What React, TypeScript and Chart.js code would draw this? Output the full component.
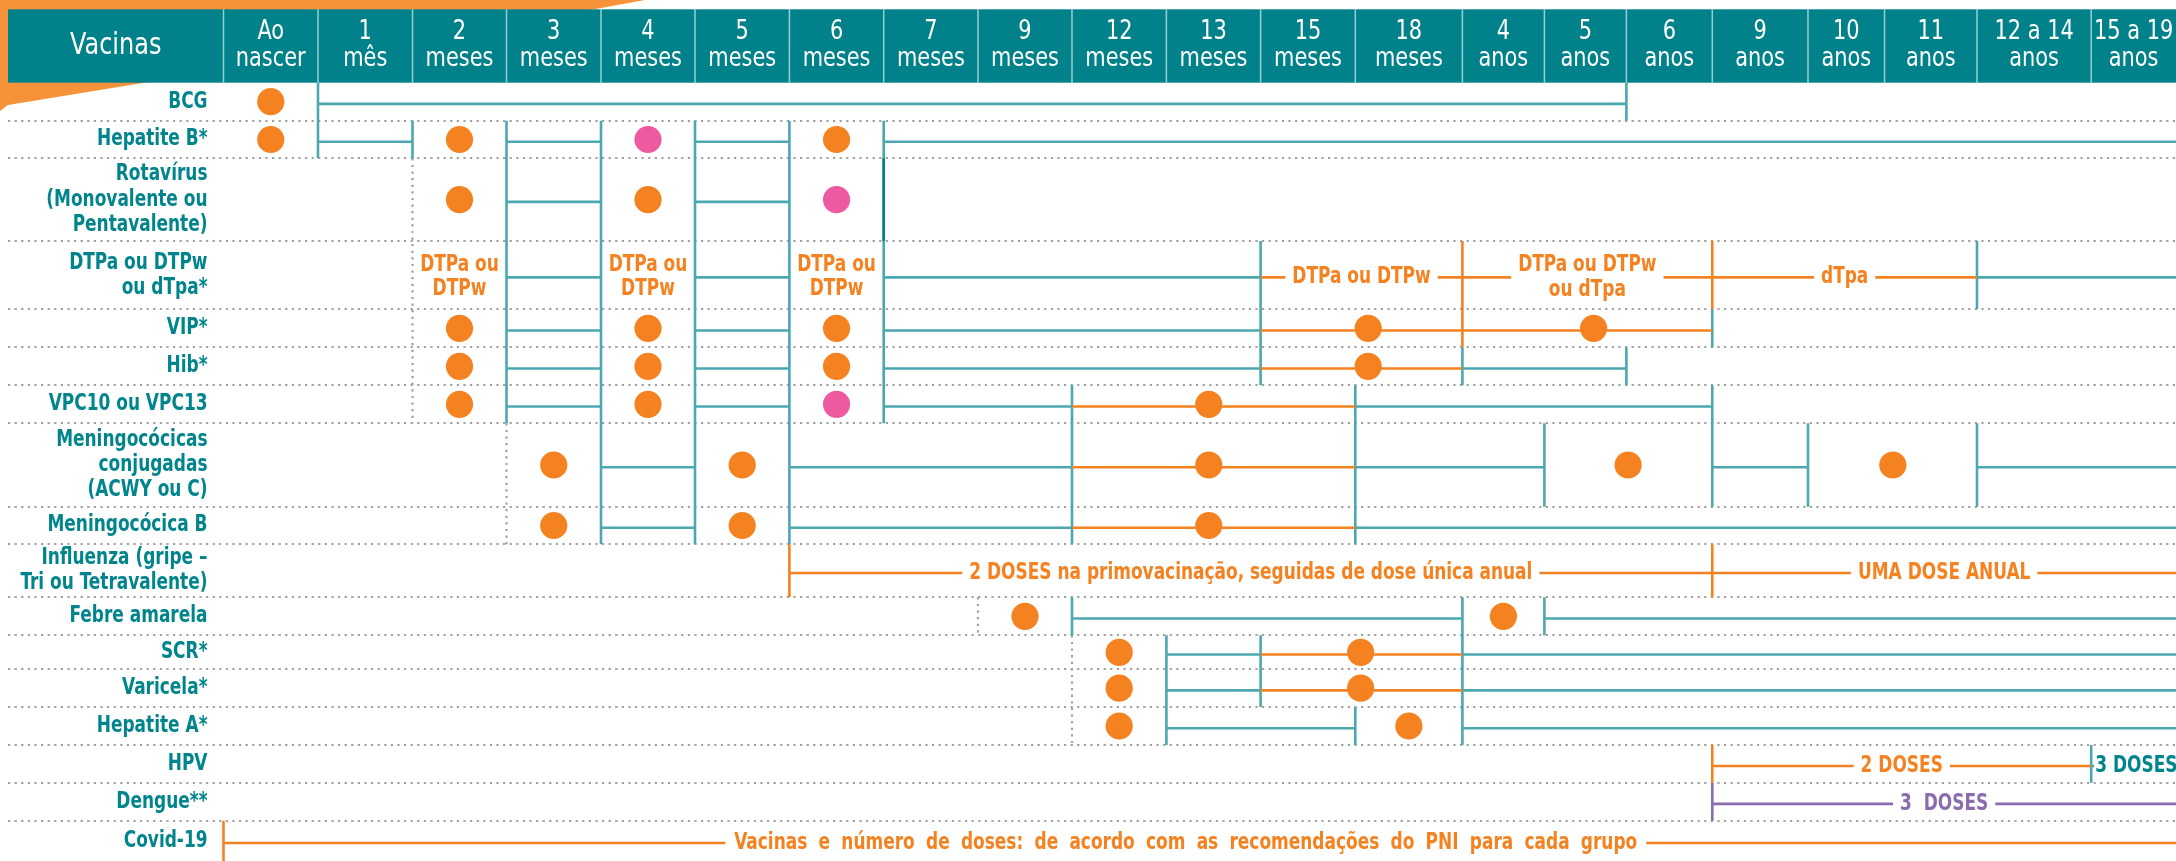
import React, { useEffect, useRef } from "react";
import { Chart, registerables } from "chart.js";

Chart.register(...registerables);

// ---------------- DATA ----------------
const HEADER_LABEL = "Vacinas";

const AGE_COLUMNS: string[][] = [
  ["Ao", "nascer"], ["1", "mês"], ["2", "meses"], ["3", "meses"], ["4", "meses"],
  ["5", "meses"], ["6", "meses"], ["7", "meses"], ["9", "meses"], ["12", "meses"],
  ["13", "meses"], ["15", "meses"], ["18", "meses"], ["4", "anos"], ["5", "anos"],
  ["6", "anos"], ["9", "anos"], ["10", "anos"], ["11", "anos"], ["12 a 14", "anos"],
  ["15 a 19", "anos"],
];

const VACCINES: string[][] = [
  ["BCG"],
  ["Hepatite B*"],
  ["Rotavírus", "(Monovalente ou", "Pentavalente)"],
  ["DTPa ou DTPw", "ou dTpa*"],
  ["VIP*"],
  ["Hib*"],
  ["VPC10 ou VPC13"],
  ["Meningocócicas", "conjugadas", "(ACWY ou C)"],
  ["Meningocócica B"],
  ["Influenza (gripe –", "Tri ou Tetravalente)"],
  ["Febre amarela"],
  ["SCR*"],
  ["Varicela*"],
  ["Hepatite A*"],
  ["HPV"],
  ["Dengue**"],
  ["Covid-19"],
];

const END = 21; // right end of the age axis (column position)

// doses: [vaccine row, age position in columns]
const DOSES_ORANGE: number[][] = [
  [0, 0.5],
  [1, 0.5], [1, 2.5], [1, 6.5],
  [2, 2.5], [2, 4.5],
  [4, 2.5], [4, 4.5], [4, 6.5], [4, 12.12], [4, 14.6],
  [5, 2.5], [5, 4.5], [5, 6.5], [5, 12.12],
  [6, 2.5], [6, 4.5], [6, 10.45],
  [7, 3.5], [7, 5.5], [7, 10.45], [7, 15.02], [7, 18.09],
  [8, 3.5], [8, 5.5], [8, 10.45],
  [10, 8.5], [10, 13.5],
  [11, 9.5], [11, 12.05],
  [12, 9.5], [12, 12.05],
  [13, 9.5], [13, 12.5],
];
const DOSES_PINK: number[][] = [[1, 4.5], [2, 6.5], [6, 6.5]];

// recommended periods: [row, from col, to col, kind]  t=teal o=orange p=purple
const PERIODS: [number, number, number, string][] = [
  [0, 1, 15, "t"],
  [1, 1, 2, "t"], [1, 3, 4, "t"], [1, 5, 6, "t"], [1, 7, END, "t"],
  [2, 3, 4, "t"], [2, 5, 6, "t"],
  [3, 3, 4, "t"], [3, 5, 6, "t"], [3, 7, 11, "t"], [3, 11, 13, "o"], [3, 13, 16, "o"], [3, 16, 19, "o"], [3, 19, END, "t"],
  [4, 3, 4, "t"], [4, 5, 6, "t"], [4, 7, 11, "t"], [4, 11, 16, "o"],
  [5, 3, 4, "t"], [5, 5, 6, "t"], [5, 7, 11, "t"], [5, 11, 13, "o"], [5, 13, 15, "t"],
  [6, 3, 4, "t"], [6, 5, 6, "t"], [6, 7, 9, "t"], [6, 9, 12, "o"], [6, 12, 16, "t"],
  [7, 4, 5, "t"], [7, 6, 9, "t"], [7, 9, 12, "o"], [7, 12, 14, "t"], [7, 16, 17, "t"], [7, 19, END, "t"],
  [8, 4, 5, "t"], [8, 6, 9, "t"], [8, 9, 12, "o"], [8, 12, END, "t"],
  [9, 6, 16, "o"], [9, 16, END, "o"],
  [10, 9, 13, "t"], [10, 14, END, "t"],
  [11, 10, 11, "t"], [11, 11, 13, "o"], [11, 13, END, "t"],
  [12, 10, 11, "t"], [12, 11, 13, "o"], [12, 13, END, "t"],
  [13, 10, 12, "t"], [13, 13, END, "t"],
  [14, 16, 20, "o"], [14, 20, END, "t"],
  [15, 16, END, "p"],
  [16, 0, END, "o"],
];

// period limits: [col edge, first row, last row, kind]  d = dark teal
const LIMITS: [number, number, number, string][] = [
  [1, 0, 1, "t"], [2, 1, 1, "t"], [3, 1, 6, "t"], [4, 1, 8, "t"], [5, 1, 8, "t"],
  [6, 1, 8, "t"], [6, 9, 9, "o"], [7, 1, 6, "t"], [7, 2, 2, "d"],
  [9, 6, 8, "t"], [9, 10, 10, "t"], [10, 11, 13, "t"],
  [11, 3, 5, "t"], [11, 11, 12, "t"], [12, 6, 8, "t"], [12, 13, 13, "t"],
  [13, 3, 4, "o"], [13, 5, 5, "t"], [13, 10, 13, "t"],
  [14, 7, 7, "t"], [14, 10, 10, "t"], [15, 0, 0, "t"], [15, 5, 5, "t"],
  [16, 3, 3, "o"], [16, 4, 4, "t"], [16, 6, 7, "t"], [16, 9, 9, "o"], [16, 14, 14, "o"], [16, 15, 15, "p"],
  [17, 7, 7, "t"], [19, 3, 3, "t"], [19, 7, 7, "t"], [20, 14, 14, "t"], [0, 16, 16, "o"],
];

// dotted start guides: [col edge, first row, last row]
const GUIDES: number[][] = [[2, 2, 6], [3, 7, 8], [8, 10, 10], [9, 11, 13]];

// dose names written in cells: [row, col position, lines]
const CELL_TEXT: [number, number, string[]][] = [
  [3, 2.5, ["DTPa ou", "DTPw"]],
  [3, 4.5, ["DTPa ou", "DTPw"]],
  [3, 6.5, ["DTPa ou", "DTPw"]],
];

// period captions: [row, from, to, lines, kind, mode] mode c=center s=start j=justified
const PERIOD_TEXT: [number, number, number, string[], string, string][] = [
  [3, 11, 13, ["DTPa ou DTPw"], "o", "c"],
  [3, 13, 16, ["DTPa ou DTPw", "ou dTpa"], "o", "c"],
  [3, 16, 19, ["dTpa"], "o", "c"],
  [9, 6, 16, ["2 DOSES na primovacinação, seguidas de dose única anual"], "o", "c"],
  [9, 16, END, ["UMA DOSE ANUAL"], "o", "c"],
  [14, 16, 20, ["2 DOSES"], "o", "c"],
  [14, 20, END, ["3 DOSES"], "t", "s"],
  [15, 16, END, ["3  DOSES"], "p", "c"],
  [16, 0, END, ["Vacinas e número de doses: de acordo com as recomendações do PNI para cada grupo"], "o", "j"],
];

// ---------------- LAYOUT / STYLE ----------------
const W = 2176;
const H = 861;
const PAGE_LEFT = 8;
const HEADER_TOP = 9.3;
const HEADER_BOTTOM = 82.7;
const PLOT_LEFT = 223.5;
const COL_WIDTHS = [94.5, 94.5, 94, 94.5, 94, 94.4, 94.3, 94.3, 94, 94.4, 94.2, 94.7, 107.1, 82, 82, 85.9, 95.7, 76.5, 92.5, 114.2, 84.8];
const ROW_HEIGHTS = [38, 37.6, 82.7, 68.3, 38, 38, 38, 83.4, 37.6, 53, 38, 34, 37.7, 38, 37.7, 38, 40.3];
const LINE_DY = 2.2;
const JUSTIFY_WIDTH = 903;
const JUSTIFY_SHIFT = -14;

const FONT = "'DejaVu Sans Condensed', 'Liberation Sans Narrow', sans-serif";
const SQUEEZE_BOLD = 0.82;
const SQUEEZE_REG = 0.86;
const HEADER_BG = "#01828A";
const LABEL_TEAL = "#00858D";
const DECOR = "#F6923A";
const DOT_GRAY = "#A0A0A0";
const KIND_COLORS: Record<string, string> = {
  t: "#4BA8B1",
  d: "#00838B",
  o: "#F58220",
  p: "#8B6CB0",
};
const TEXT_COLORS: Record<string, string> = {
  t: "#00858D",
  o: "#F58220",
  p: "#8B6CB0",
};
const ORANGE = "#F58220";
const PINK = "#EE5AA0";

function cumulative(sizes: number[], pos: number): number {
  const i = Math.max(0, Math.min(Math.floor(pos), sizes.length - 1));
  let s = 0;
  for (let k = 0; k < i; k++) s += sizes[k];
  return s + (pos - i) * sizes[i];
}
const colU = (p: number) => cumulative(COL_WIDTHS, p);
const rowU = (p: number) => cumulative(ROW_HEIGHTS, p);

// draw horizontally condensed text (the original uses a condensed typeface)
function squeezed(ctx: CanvasRenderingContext2D, text: string, x: number, y: number, align: CanvasTextAlign, sx: number) {
  ctx.save();
  ctx.translate(x, y);
  ctx.scale(sx, 1);
  ctx.textAlign = align;
  ctx.fillText(text, 0, 0);
  ctx.restore();
}

const calendarPlugin = {
  id: "calendar",
  beforeDraw(chart: any) {
    const ctx = chart.ctx;
    const xs = chart.scales.x;
    ctx.save();
    ctx.fillStyle = "#ffffff";
    ctx.fillRect(0, 0, chart.width, chart.height);
    // decorative orange corner
    ctx.fillStyle = DECOR;
    ctx.beginPath();
    ctx.moveTo(0, 0);
    ctx.lineTo(645, 0);
    ctx.lineTo(594, HEADER_TOP);
    ctx.lineTo(PAGE_LEFT, 105);
    ctx.lineTo(0, 111);
    ctx.closePath();
    ctx.fill();
    // header band
    ctx.fillStyle = HEADER_BG;
    ctx.fillRect(PAGE_LEFT, HEADER_TOP, chart.width - PAGE_LEFT, HEADER_BOTTOM - HEADER_TOP);
    ctx.strokeStyle = "rgba(255,255,255,0.6)";
    ctx.lineWidth = 1.5;
    for (let c = 0; c < AGE_COLUMNS.length; c++) {
      const px = xs.getPixelForValue(colU(c));
      ctx.beginPath();
      ctx.moveTo(px, HEADER_TOP);
      ctx.lineTo(px, HEADER_BOTTOM);
      ctx.stroke();
    }
    ctx.restore();
  },
  beforeDatasetsDraw(chart: any) {
    const ctx = chart.ctx;
    const xs = chart.scales.x;
    const ys = chart.scales.y;
    ctx.save();
    ctx.strokeStyle = DOT_GRAY;
    ctx.lineWidth = 2.2;
    ctx.setLineDash([2.2, 4.4]);
    for (let r = 1; r < VACCINES.length; r++) {
      const py = Math.round(ys.getPixelForValue(rowU(r)));
      ctx.beginPath();
      ctx.moveTo(PAGE_LEFT, py);
      ctx.lineTo(chart.width, py);
      ctx.stroke();
    }
    for (const [c, r0, r1] of GUIDES) {
      const px = xs.getPixelForValue(colU(c));
      ctx.beginPath();
      ctx.moveTo(px, ys.getPixelForValue(rowU(r0)));
      ctx.lineTo(px, ys.getPixelForValue(rowU(r1 + 1)));
      ctx.stroke();
    }
    ctx.restore();
  },
  afterDatasetsDraw(chart: any) {
    const ctx = chart.ctx;
    const xs = chart.scales.x;
    const ys = chart.scales.y;
    ctx.save();
    ctx.font = `bold 23px ${FONT}`;
    ctx.textBaseline = "middle";
    const LH = 25;
    for (const [row, col, lines] of CELL_TEXT) {
      const cx = xs.getPixelForValue(colU(col));
      const cy = ys.getPixelForValue(rowU(row + 0.5)) + 2;
      ctx.fillStyle = ORANGE;
      lines.forEach((t, i) => squeezed(ctx, t, cx, cy + (i - (lines.length - 1) / 2) * (LH - 1), "center", SQUEEZE_BOLD));
    }
    for (const [row, a, b, lines, kind, mode] of PERIOD_TEXT) {
      const x0 = xs.getPixelForValue(colU(a));
      const x1 = xs.getPixelForValue(colU(b));
      const cy = ys.getPixelForValue(rowU(row + 0.5)) + LINE_DY;
      const cx = (x0 + x1) / 2;
      if (mode === "j") {
        const words = lines[0].split(" ");
        const widths = words.map((w) => ctx.measureText(w).width * SQUEEZE_BOLD);
        const total = widths.reduce((s, v) => s + v, 0);
        const gap = (JUSTIFY_WIDTH - total) / (words.length - 1);
        let x = cx + JUSTIFY_SHIFT - JUSTIFY_WIDTH / 2;
        ctx.fillStyle = "#ffffff";
        ctx.fillRect(x - 9, cy - 14, JUSTIFY_WIDTH + 18, 28);
        ctx.fillStyle = TEXT_COLORS[kind];
        words.forEach((w, i) => {
          squeezed(ctx, w, x, cy, "left", SQUEEZE_BOLD);
          x += widths[i] + gap;
        });
        continue;
      }
      const tw = Math.max(...lines.map((t) => ctx.measureText(t).width)) * SQUEEZE_BOLD;
      const th = lines.length * LH;
      if (mode === "s") {
        const sx = x0 + 4;
        ctx.fillStyle = "#ffffff";
        ctx.fillRect(sx - 1, cy - th / 2, tw + 8, th);
        ctx.fillStyle = TEXT_COLORS[kind];
        lines.forEach((t, i) => squeezed(ctx, t, sx, cy + (i - (lines.length - 1) / 2) * LH, "left", SQUEEZE_BOLD));
      } else {
        ctx.fillStyle = "#ffffff";
        ctx.fillRect(cx - tw / 2 - 7, cy - th / 2, tw + 14, th);
        ctx.fillStyle = TEXT_COLORS[kind];
        lines.forEach((t, i) => squeezed(ctx, t, cx, cy + (i - (lines.length - 1) / 2) * LH, "center", SQUEEZE_BOLD));
      }
    }
    ctx.restore();
  },
  afterDraw(chart: any) {
    // axis labels, taken from the scales' own ticks, drawn in a condensed way
    const ctx = chart.ctx;
    const xs = chart.scales.x;
    const ys = chart.scales.y;
    ctx.save();
    ctx.textBaseline = "middle";
    ctx.fillStyle = "#ffffff";
    ctx.font = `31px ${FONT}`;
    squeezed(ctx, HEADER_LABEL, (PAGE_LEFT + xs.left) / 2, (HEADER_TOP + HEADER_BOTTOM) / 2, "center", SQUEEZE_REG);
    ctx.font = `27px ${FONT}`;
    const headerMid = (HEADER_TOP + HEADER_BOTTOM) / 2 - 0.6;
    const HLH = 26.8;
    xs.ticks.forEach((tick: any, i: number) => {
      const lines: string[] = Array.isArray(tick.label) ? tick.label : AGE_COLUMNS[i];
      const px = xs.getPixelForValue(tick.value);
      lines.forEach((t, k) => squeezed(ctx, t, px, headerMid + (k - (lines.length - 1) / 2) * HLH, "center", SQUEEZE_REG));
    });
    ctx.fillStyle = LABEL_TEAL;
    ctx.font = `bold 23px ${FONT}`;
    const YLH = 25.2;
    const rx = xs.left - 16;
    ys.ticks.forEach((tick: any, i: number) => {
      const lines: string[] = Array.isArray(tick.label) ? tick.label : VACCINES[i];
      const py = ys.getPixelForValue(tick.value);
      lines.forEach((t, k) => squeezed(ctx, t, rx, py + (k - (lines.length - 1) / 2) * YLH, "right", SQUEEZE_BOLD));
    });
    ctx.restore();
  },
};

function buildDatasets() {
  const sets: any[] = [];
  sets.push({
    label: "dose",
    data: DOSES_ORANGE.map(([r, c]) => ({ x: colU(c), y: rowU(r + 0.5) })),
    backgroundColor: ORANGE,
    borderWidth: 0,
    pointRadius: 13.6,
    pointHoverRadius: 13.6,
    showLine: false,
    order: 0,
  });
  sets.push({
    label: "dose (pink)",
    data: DOSES_PINK.map(([r, c]) => ({ x: colU(c), y: rowU(r + 0.5) })),
    backgroundColor: PINK,
    borderWidth: 0,
    pointRadius: 13.6,
    pointHoverRadius: 13.6,
    showLine: false,
    order: 0,
  });
  PERIODS.forEach(([r, a, b, k]) => {
    const y = rowU(r + 0.5) + LINE_DY;
    sets.push({
      data: [{ x: colU(a), y }, { x: colU(b), y }],
      showLine: true,
      borderColor: KIND_COLORS[k],
      borderWidth: 2.6,
      pointRadius: 0,
      clip: false,
      order: 2,
    });
  });
  LIMITS.forEach(([c, r0, r1, k]) => {
    const x = colU(c);
    sets.push({
      data: [{ x, y: rowU(r0) }, { x, y: rowU(r1 + 1) }],
      showLine: true,
      borderColor: KIND_COLORS[k],
      borderWidth: 2.6,
      pointRadius: 0,
      clip: false,
      order: k === "d" ? 1 : 2,
    });
  });
  return sets;
}

export default function App() {
  const canvasRef = useRef<HTMLCanvasElement | null>(null);

  useEffect(() => {
    document.body.style.margin = "0";
    document.body.style.overflow = "hidden";
    const canvas = canvasRef.current;
    if (!canvas) return;
    const chart = new Chart(canvas, {
      type: "scatter",
      data: { datasets: buildDatasets() },
      options: {
        responsive: false,
        maintainAspectRatio: false,
        animation: false,
        devicePixelRatio: 1,
        events: [],
        layout: {
          padding: { top: HEADER_TOP, left: PAGE_LEFT, right: 0, bottom: 0 },
          autoPadding: false,
        },
        plugins: {
          legend: { display: false },
          tooltip: { enabled: false },
        },
        scales: {
          x: {
            type: "linear",
            position: "top",
            min: 0,
            max: colU(END),
            grid: { display: false, drawTicks: false },
            border: { display: false },
            afterFit: (s: any) => {
              s.height = HEADER_BOTTOM - HEADER_TOP;
            },
            afterBuildTicks: (s: any) => {
              s.ticks = AGE_COLUMNS.map((_, i) => ({ value: colU(i + 0.5) }));
            },
            ticks: {
              display: false,
              autoSkip: false,
              maxRotation: 0,
              minRotation: 0,
              callback: (_v: any, i: number) => AGE_COLUMNS[i],
            },
          },
          y: {
            type: "linear",
            position: "left",
            reverse: true,
            min: 0,
            max: rowU(VACCINES.length),
            grid: { display: false, drawTicks: false },
            border: { display: false },
            afterFit: (s: any) => {
              s.width = PLOT_LEFT - PAGE_LEFT;
            },
            afterBuildTicks: (s: any) => {
              s.ticks = VACCINES.map((_, i) => ({ value: rowU(i + 0.5) }));
            },
            ticks: {
              display: false,
              autoSkip: false,
              callback: (_v: any, i: number) => VACCINES[i],
            },
          },
        },
      },
      plugins: [calendarPlugin],
    } as any);
    return () => chart.destroy();
  }, []);

  return (
    <div style={{ width: W, height: H, position: "relative" }}>
      <canvas ref={canvasRef} width={W} height={H} style={{ display: "block", width: W, height: H }} />
    </div>
  );
}
